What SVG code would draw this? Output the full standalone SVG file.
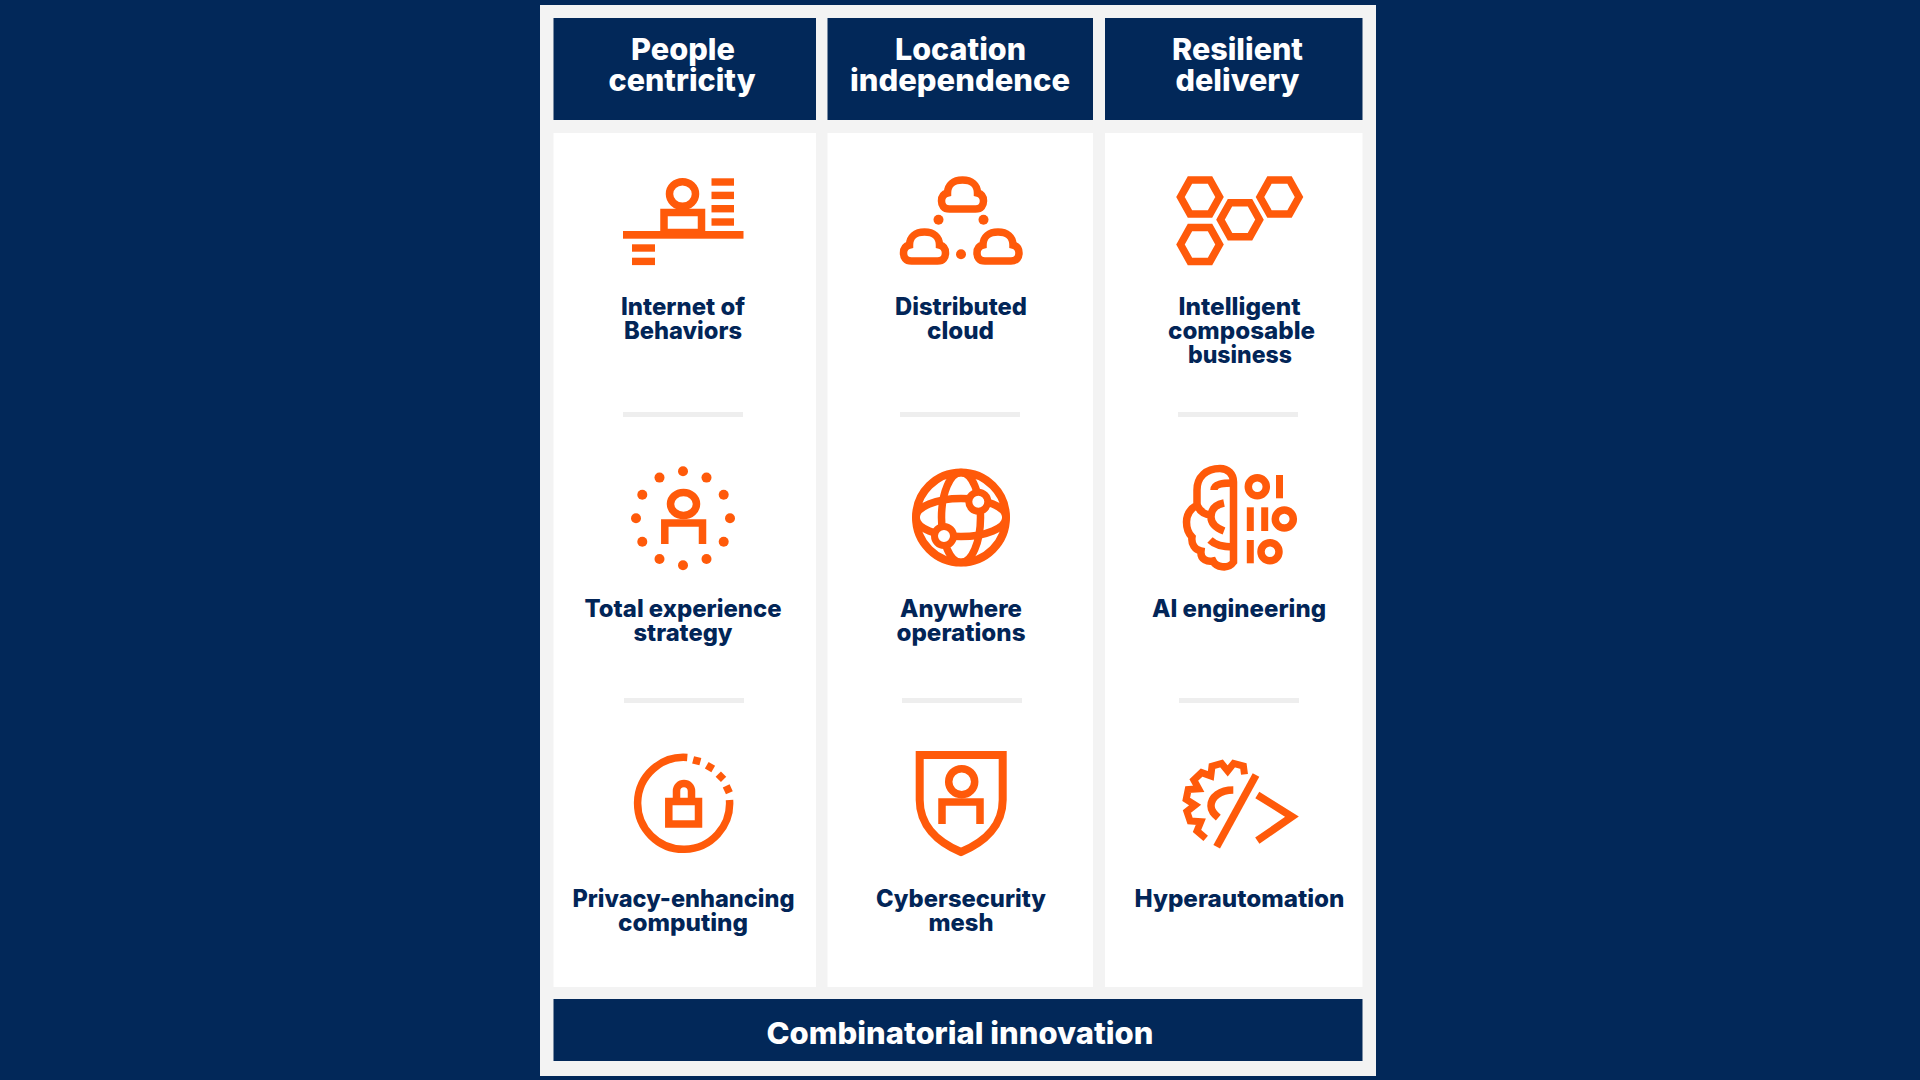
<svg xmlns="http://www.w3.org/2000/svg" width="1920" height="1080" viewBox="0 0 1920 1080">
<style>
text{font-family:Inter,"Liberation Sans",Arial,sans-serif;font-weight:800;text-anchor:middle}
.h{font-size:30px;fill:#fff}
.l{font-size:24px;fill:#022557}
.navy{fill:#022859}
.col{fill:#fff}
.sep{fill:#eeeeee}
.i{fill:none;stroke:#ff5a0a;stroke-width:7.500;stroke-linejoin:miter}
.f{fill:#ff5a0a;stroke:none}
.w{fill:#fff;stroke:#ff5a0a;stroke-width:7}
</style>
<defs>
<path id="cloud" d="M12 33C6 33 4 29 4 25C4 21 6 18 10 17C10 9 16 4 25 4C34 4 40 9 40 17C44 18 46 21 46 25C46 29 44 33 38 33Z"/>
<path id="hex" d="M-19.500 0L-10 -17H10L19.500 0L10 17H-10Z"/>
</defs>
<rect width="1920" height="1080" fill="#022859"/>
<rect x="540" y="5" width="836" height="1071" fill="#f3f3f3"/>
<rect class="col" x="553.500" y="133" width="262.500" height="854"/>
<rect class="col" x="827.500" y="133" width="265.500" height="854"/>
<rect class="col" x="1105" y="133" width="257.500" height="854"/>
<g id="separators">
<rect class="sep" x="623" y="412" width="120" height="5"/><rect class="sep" x="900" y="412" width="120" height="5"/><rect class="sep" x="1178" y="412" width="120" height="5"/>
<rect class="sep" x="624" y="698" width="120" height="5"/><rect class="sep" x="902" y="698" width="120" height="5"/><rect class="sep" x="1179" y="698" width="120" height="5"/>
</g>
<g id="header-people"><rect class="navy" x="553.500" y="18" width="262.500" height="102"/><text class="h" x="683" y="59.500" textLength="104" lengthAdjust="spacingAndGlyphs">People</text><text class="h" x="682" y="91" textLength="147" lengthAdjust="spacingAndGlyphs">centricity</text></g>
<g id="header-location"><rect class="navy" x="827.500" y="18" width="265.500" height="102"/><text class="h" x="960.500" y="59.500" textLength="131" lengthAdjust="spacingAndGlyphs">Location</text><text class="h" x="960" y="91" textLength="220" lengthAdjust="spacingAndGlyphs">independence</text></g>
<g id="header-resilient"><rect class="navy" x="1105" y="18" width="257.500" height="102"/><text class="h" x="1237.500" y="59.500" textLength="131" lengthAdjust="spacingAndGlyphs">Resilient</text><text class="h" x="1237.500" y="91" textLength="124" lengthAdjust="spacingAndGlyphs">delivery</text></g>
<g id="internet-of-behaviors">
<ellipse class="i" cx="682.500" cy="194" rx="13" ry="12.300"/>
<rect class="i" x="664" y="212.500" width="37.500" height="20"/>
<rect class="f" x="623" y="231" width="120.500" height="7.700"/>
<rect class="f" x="711.500" y="178.300" width="22.500" height="7.400"/><rect class="f" x="711.500" y="191.700" width="22.500" height="7.400"/><rect class="f" x="711.500" y="205" width="22.500" height="7.400"/><rect class="f" x="711.500" y="218.300" width="22.500" height="7.400"/>
<rect class="f" x="632" y="244.300" width="23" height="7.400"/><rect class="f" x="632" y="257.700" width="23" height="7.400"/>
<text class="l" x="683" y="315" textLength="124" lengthAdjust="spacingAndGlyphs">Internet of</text><text class="l" x="683" y="339" textLength="118" lengthAdjust="spacingAndGlyphs">Behaviors</text>
</g>
<g id="distributed-cloud">
<use class="i" href="#cloud" x="937.500" y="176"/><use class="i" href="#cloud" x="899.500" y="228"/><use class="i" href="#cloud" x="973" y="228"/>
<circle class="f" cx="938.500" cy="219.700" r="5"/><circle class="f" cx="983.500" cy="219.700" r="5"/><circle class="f" cx="961" cy="254.300" r="5"/>
<text class="l" x="961" y="315" textLength="132" lengthAdjust="spacingAndGlyphs">Distributed</text><text class="l" x="960.500" y="339" textLength="67" lengthAdjust="spacingAndGlyphs">cloud</text>
</g>
<g id="intelligent-composable-business">
<use class="i" href="#hex" x="1200" y="197"/><use class="i" href="#hex" x="1279.500" y="197"/><use class="i" href="#hex" x="1240" y="219.700"/><use class="i" href="#hex" x="1200" y="244.500"/>
<text class="l" x="1239.500" y="315" textLength="122" lengthAdjust="spacingAndGlyphs">Intelligent</text><text class="l" x="1241.500" y="339" textLength="147" lengthAdjust="spacingAndGlyphs">composable</text><text class="l" x="1240" y="362.700" textLength="104" lengthAdjust="spacingAndGlyphs">business</text>
</g>
<g id="total-experience-strategy">
<g class="f"><circle cx="683" cy="471.300" r="5"/><circle cx="706.500" cy="477.600" r="5"/><circle cx="723.700" cy="494.800" r="5"/><circle cx="730" cy="518.300" r="5"/><circle cx="723.700" cy="541.800" r="5"/><circle cx="706.500" cy="559" r="5"/><circle cx="683" cy="565.300" r="5"/><circle cx="659.500" cy="559" r="5"/><circle cx="642.300" cy="541.800" r="5"/><circle cx="636" cy="518.300" r="5"/><circle cx="642.300" cy="494.800" r="5"/><circle cx="659.500" cy="477.600" r="5"/></g>
<ellipse class="i" cx="683.500" cy="504" rx="13" ry="11.500"/>
<path class="i" d="M664.800 544V523H702.500V544"/>
<text class="l" x="683" y="617" textLength="197" lengthAdjust="spacingAndGlyphs">Total experience</text><text class="l" x="683" y="640.700" textLength="99" lengthAdjust="spacingAndGlyphs">strategy</text>
</g>
<g id="anywhere-operations">
<circle class="i" style="stroke-width:8" cx="961" cy="517.500" r="45"/>
<ellipse class="i" cx="961" cy="517.500" rx="19.500" ry="45"/>
<ellipse class="i" cx="961" cy="517.500" rx="45" ry="19"/>
<circle class="w" cx="978.300" cy="501.700" r="9.500"/><circle class="w" cx="944" cy="536" r="9.500"/>
<text class="l" x="961" y="617" textLength="122" lengthAdjust="spacingAndGlyphs">Anywhere</text><text class="l" x="961" y="640.700" textLength="129" lengthAdjust="spacingAndGlyphs">operations</text>
</g>
<g id="ai-engineering">
<path class="i" d="M1233.500 562V482C1233.500 474 1228 468.500 1220 468.500C1206 468.500 1197 477 1197 490V505C1190 509 1186.500 515 1186.500 522C1186.500 528 1188 533 1192 537C1191 544 1195 550 1201 551C1200 560 1208 562 1213 561C1216 567 1228 570 1233.500 562Z"/>
<path class="i" d="M1214 490C1214 484 1222 483 1233.500 483M1197 505C1200 512 1206 515 1212 515M1224 503C1214 505 1211 511 1211 517C1211 523 1216 528 1224 531M1210 540C1216 546 1224 547 1233.500 547"/>
<circle class="i" cx="1257.300" cy="486.700" r="9"/><rect class="f" x="1276" y="475" width="7" height="23.300"/>
<rect class="f" x="1246.800" y="507.300" width="7" height="23.700"/><rect class="f" x="1261.200" y="507.300" width="7" height="23.700"/><circle class="i" cx="1284.300" cy="519" r="9"/>
<rect class="f" x="1246.800" y="540" width="7" height="23.300"/><circle class="i" cx="1270" cy="551.700" r="9"/>
<text class="l" x="1239" y="617" textLength="174" lengthAdjust="spacingAndGlyphs">AI engineering</text>
</g>
<g id="privacy-enhancing-computing">
<path class="i" d="M687.300 757.500A46 46 0 1 0 729.500 800"/>
<g class="f"><rect x="693" y="757" width="7.500" height="7.500" transform="rotate(15 696.700 760.700)"/><rect x="706.200" y="763.500" width="7.500" height="7.500" transform="rotate(30 710 767.300)"/><rect x="717.200" y="773" width="7.500" height="7.500" transform="rotate(45 721 776.700)"/><rect x="724" y="785.500" width="7.500" height="7.500" transform="rotate(65 727.700 789.300)"/></g>
<rect class="i" x="668.800" y="801.500" width="29.700" height="22.500"/>
<path class="i" d="M676.500 801V791A7.500 7.500 0 0 1 691.500 791V801"/>
<text class="l" x="683.500" y="907" textLength="222" lengthAdjust="spacingAndGlyphs">Privacy-enhancing</text><text class="l" x="683" y="930.700" textLength="130" lengthAdjust="spacingAndGlyphs">computing</text>
</g>
<g id="cybersecurity-mesh">
<path class="i" style="stroke-width:8" d="M919.700 755H1002.700V800C1002.700 825 985 842 961 852C937 842 919.700 825 919.700 800Z"/>
<circle class="i" cx="961.700" cy="781.700" r="13"/>
<path class="i" d="M942 824V802H980V824"/>
<text class="l" x="961" y="907" textLength="170" lengthAdjust="spacingAndGlyphs">Cybersecurity</text><text class="l" x="961" y="930.700" textLength="65" lengthAdjust="spacingAndGlyphs">mesh</text>
</g>
<g id="hyperautomation">
<path class="i" style="stroke-width:7" d="M1244.500 774.400L1243.400 766L1233.700 763.400L1227.700 771L1221.600 763.500L1212 766.200L1210.800 775.900L1201.600 772.600L1193.800 779.900L1198.700 788.800L1188.200 789.600L1186.200 799.400L1195.100 805L1186.900 811.500L1190.100 821L1200.800 821.700L1197 831L1205.700 838.400"/>
<path class="i" d="M1233.300 790C1220 790 1211 797 1211 806C1211 811 1214 814 1218.300 817.700"/>
<path class="i" d="M1256 775L1216.700 846.700"/>
<path class="i" d="M1257.300 795L1292 816.700L1257.300 840.700"/>
<text class="l" x="1239.500" y="907" textLength="210" lengthAdjust="spacingAndGlyphs">Hyperautomation</text>
</g>
<g id="footer-combinatorial-innovation"><rect class="navy" x="553.500" y="999" width="809" height="62"/><text class="h" x="960" y="1044" textLength="387" lengthAdjust="spacingAndGlyphs">Combinatorial innovation</text></g>
</svg>
